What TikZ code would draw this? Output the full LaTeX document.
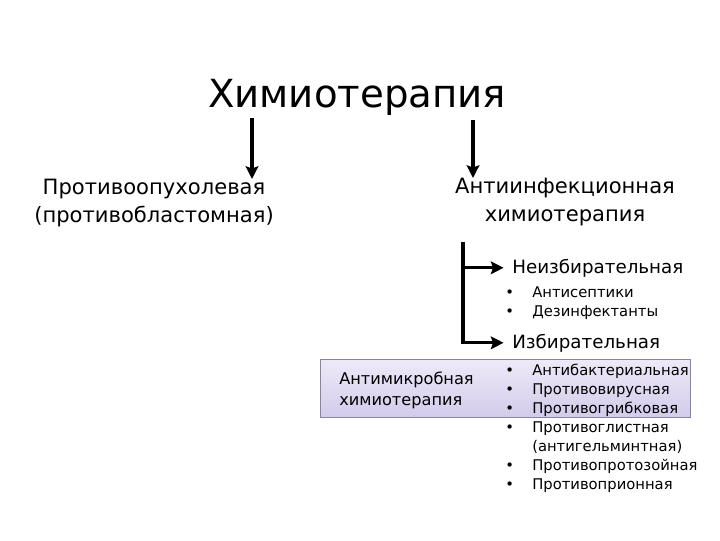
\documentclass[tikz,border=0pt]{standalone}
\usepackage{fontspec}
\setmainfont{DejaVu Sans}
\usetikzlibrary{arrows.meta}

\definecolor{boxtop}{HTML}{EEEAF8}
\definecolor{boxbot}{HTML}{D3CBEA}
\definecolor{boxline}{HTML}{8A849C}

\begin{document}
\begin{tikzpicture}[x=0.025cm, y=-0.025cm, inner sep=0pt,
  arr/.style={-{Stealth[length=9pt, width=9pt, inset=1.5pt]}, line width=2.2pt},
  head/.style={align=center, font=\fontsize{15}{19.5}\selectfont},
  sub/.style={font=\fontsize{13}{16}\selectfont},
  items/.style={font=\fontsize{10.5}{13.5}\selectfont}]
\useasboundingbox (0,0) rectangle (720,540);

\node [draw=boxline, line width=0.6pt, top color=boxtop, bottom color=boxbot,
       minimum width=370*0.025cm, minimum height=58*0.025cm] (BOX) at (505,388) {};

\node [font=\fontsize{27.5}{34}\selectfont, anchor=base] (CHEMO) at (357,107) {Химиотерапия};
\node [head, anchor=north] (PROT) at (154,179) {Противоопухолевая\\(противобластомная)};
\node [head, anchor=north] (ANTI) at (565,178) {Антиинфекционная\\химиотерапия};

\node [sub, anchor=base west] (NEIZB) at (512,273) {Неизбирательная};
\node [items, anchor=north west] (NLIST) at (505,284) {%
  \begin{tabular}{@{}l@{\hspace{13pt}}l@{}}
  • & Антисептики\\
  • & Дезинфектанты
  \end{tabular}};
\node [sub, anchor=base west] (IZB) at (512,348) {Избирательная};

\node [align=left, anchor=north west, font=\fontsize{11.5}{14.5}\selectfont] (MICRO) at (339,372)
  {Антимикробная\\химиотерапия};
\node [items, anchor=north west] (ILIST) at (505,362) {%
  \begin{tabular}{@{}l@{\hspace{13pt}}l@{}}
  • & Антибактериальная\\
  • & Противовирусная\\
  • & Противогрибковая\\
  • & Противоглистная\\
    & (антигельминтная)\\
  • & Противопротозойная\\
  • & Противоприонная
  \end{tabular}};

\coordinate (A1) at (252,118);
\coordinate (A2) at (473,120);
\draw [arr] (A1) -- (A1 |- PROT.north);
\draw [arr] (A2) -- (A2 |- ANTI.north);

\coordinate (BR) at (463,242);
\draw [arr] (BR) |- ([xshift=-6pt]IZB.west);
\draw [arr] (BR |- NEIZB.west) -- ([xshift=-6pt]NEIZB.west);
\end{tikzpicture}
\end{document}
